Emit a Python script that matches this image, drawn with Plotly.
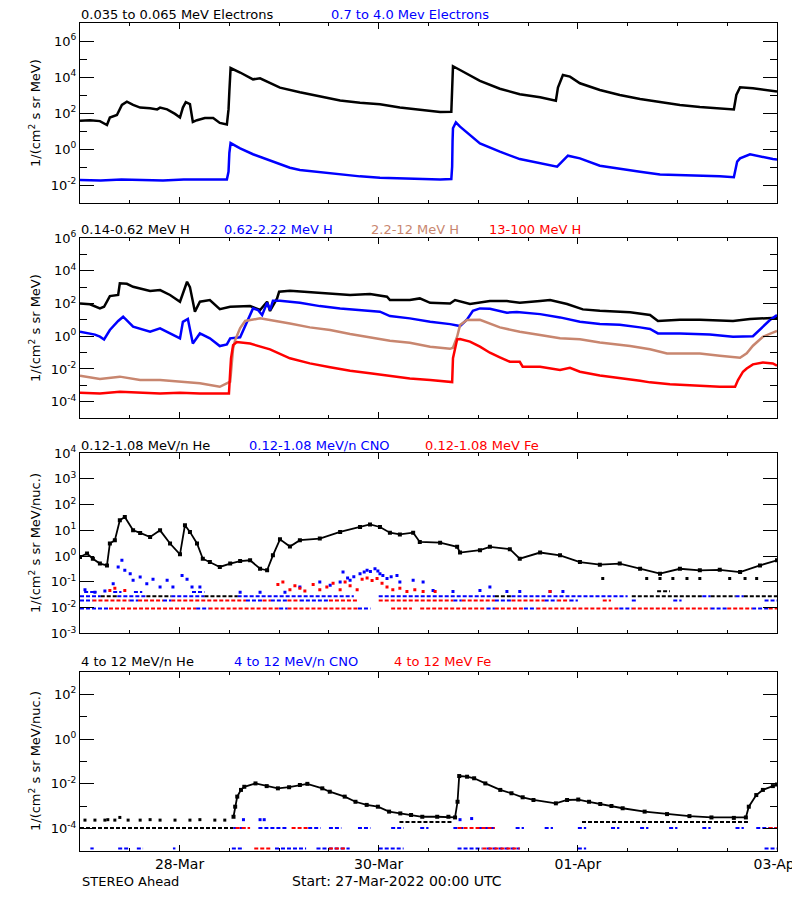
import pandas as pd
import plotly.graph_objects as go

T0 = pd.Timestamp("2022-03-27 00:00")
BLACK, BLUE, BROWN, RED = "#000000", "#0000FF", "#C8866F", "#FF0000"

# ---------------- Panel 1: electrons (hours since start, log10 flux) ----------------
e_lo_hours = [0, 2.4, 4.8, 6.5, 7.2, 8.9, 10.1, 11.3, 12.8, 14.5, 16.9, 18.6, 19.3, 21.0, 22.9, 24.1,
              24.8, 25.5, 26.5, 27.2, 28.2, 30.1, 32.1, 33.7, 35.4, 35.8, 36.0, 36.3, 38.6, 41.7, 43.4,
              45.8, 48.2, 53.0, 57.8, 62.7, 67.5, 72.3, 77.1, 81.9, 86.8, 89.5, 89.7, 89.9, 91.6, 96.4,
              101.2, 106.0, 110.9, 114.7, 115.2, 116.4, 118.1, 120.5, 125.3, 130.1, 135.0, 139.8, 144.6,
              149.4, 154.2, 157.6, 158.2, 159.1, 162.2, 168.0]
e_lo_log = [1.57, 1.6, 1.55, 1.33, 1.75, 1.89, 2.45, 2.63, 2.45, 2.3, 2.26, 2.2, 2.3, 2.2, 1.95, 1.75,
            2.3, 2.6, 2.5, 1.5, 1.6, 1.72, 1.72, 1.45, 1.36, 2.2, 3.2, 4.5, 4.25, 3.87, 3.93,
            3.65, 3.41, 3.15, 2.94, 2.70, 2.57, 2.48, 2.31, 2.17, 2.06, 2.07, 3.18, 4.6, 4.39, 3.78,
            3.35, 3.04, 2.87, 2.68, 3.41, 4.11, 4.02, 3.65, 3.28, 3.0, 2.78, 2.59, 2.44,
            2.33, 2.26, 2.2, 3.0, 3.43, 3.37, 3.2]

e_hi_hours = [0, 5, 10, 15, 20, 25, 30, 35.4, 35.8, 36.0, 36.3, 38.6, 41.7, 45.8, 50.6, 53.0, 57.8,
              62.7, 67.5, 72.3, 77.1, 81.9, 86.8, 89.5, 89.7, 89.8, 89.9, 90.6, 91.6, 96.4, 101.2,
              106.0, 110.9, 115.0, 117.6, 120.5, 125.3, 130.1, 135.0, 139.8, 144.6, 149.4, 154.2,
              157.6, 158.4, 159.1, 161.5, 167.0, 168.0]
e_hi_log = [-1.72, -1.75, -1.7, -1.72, -1.75, -1.7, -1.72, -1.7, -1.26, -0.22, 0.33, 0.04, -0.29, -0.65,
            -1.04, -1.17, -1.29, -1.41, -1.52, -1.59, -1.63, -1.67, -1.7, -1.67, -0.98, 0.44, 1.15, 1.48,
            1.24, 0.31, -0.15, -0.56, -0.8, -0.98, -0.37, -0.52, -0.93, -1.11, -1.26, -1.41, -1.44,
            -1.48, -1.52, -1.57, -0.7, -0.52, -0.29, -0.56, -0.58]

# ---------------- Panel 2: protons ----------------
h_lo_hours = [0, 2.4, 4.8, 5.8, 7.2, 9.2, 9.6, 11.3, 12.8, 16.9, 19.3, 21.7, 24.1, 24.8, 25.8, 26.5,
              27.7, 28.9, 31.3, 33.7, 36.2, 41.0, 43.4, 45.1, 45.8, 47.5, 48.0, 50.6, 57.8, 65.1, 69.9,
              74.0, 74.7, 79.5, 81.9, 84.4, 89.2, 90.4, 94.0, 98.8, 102.9, 106.0, 110.9, 113.3, 117.4,
              121.2, 125.3, 132.6, 137.4, 139.3, 144.6, 149.4, 157.4, 161.5, 168.0]
h_lo_log = [2.0, 1.95, 1.7, 1.8, 2.45, 2.52, 3.23, 3.2, 3.02, 2.76, 2.82, 2.52, 2.11, 2.6, 3.33, 3.0,
            1.5, 2.11, 2.21, 1.65, 1.8, 1.84, 1.6, 2.11, 1.54, 2.31, 2.72, 2.78, 2.66, 2.52, 2.58,
            2.41, 2.21, 2.21, 2.31, 2.04, 2.0, 2.21, 1.97, 2.15, 2.15, 2.04, 2.15, 2.21, 1.97,
            1.64, 1.56, 1.46, 1.3, 0.93, 1.01, 1.01, 0.93, 1.05, 1.13]

h_mid_hours = [0, 3.6, 4.8, 5.8, 7.2, 9.2, 10.4, 12.8, 16.9, 19.3, 21.7, 24.1, 24.8, 26.0, 27.2, 28.9,
               31.3, 33.7, 35.4, 36.2, 38.6, 39.8, 41.7, 42.9, 43.9, 45.1, 45.8, 46.5, 48.2, 53.0, 57.8,
               62.7, 67.5, 72.3, 74.7, 79.5, 84.4, 89.2, 91.6, 93.3, 94.7, 96.4, 98.8, 102.9, 105.3,
               110.9, 115.7, 120.5, 125.3, 130.1, 135.0, 137.4, 139.3, 144.6, 151.8, 157.4, 162.2,
               164.6, 166.3, 168.0]
h_mid_log = [0.27, 0.1, -0.03, -0.2, 0.38, 0.93, 1.19, 0.58, 0.27, 0.48, 0.17, -0.13, 0.88, 1.05, -0.44,
             0.17, -0.13, -0.6, -0.5, -0.13, -0.07, 0.58, 1.7, 1.6, 1.29, 2.04, 1.6, 2.17, 2.17, 2.04,
             1.84, 1.7, 1.6, 1.5, 1.23, 1.09, 0.88, 0.74, 0.62, 1.03, 1.56, 1.7, 1.68, 1.44, 1.48,
             1.35, 1.15, 0.88, 0.75, 0.7, 0.54, 0.44, 0.17, 0.17, 0.11, -0.03, 0.0, 0.58, 0.99, 1.29]

h_hi_hours = [0, 4.8, 9.6, 14.5, 19.3, 24.1, 28.9, 33.7, 36.2, 36.9, 37.4, 38.6, 39.8, 43.4, 45.8,
              50.6, 55.4, 60.3, 65.1, 69.9, 74.7, 79.5, 84.4, 89.2, 89.9, 90.9, 91.6, 93.3, 96.4,
              101.2, 106.0, 110.9, 115.7, 120.5, 125.3, 132.6, 137.4, 141.5, 149.4, 154.2, 159.1,
              160.7, 162.2, 164.6, 168.0]
h_hi_log = [-2.41, -2.62, -2.47, -2.68, -2.68, -2.78, -2.88, -3.09, -2.78, -0.74, -0.24, 0.5, 0.93,
            1.09, 0.99, 0.78, 0.54, 0.38, 0.13, -0.07, -0.28, -0.4, -0.64, -0.77, -0.7, -0.03, 0.68,
            0.99, 1.0, 0.54, 0.27, 0.07, -0.13, -0.19, -0.38, -0.6, -0.8, -1.05, -1.05, -1.19, -1.32,
            -1.05, -0.58, -0.03, 0.32]

h_top_hours = [0, 4.8, 9.6, 14.5, 19.3, 24.1, 28.9, 33.7, 35.9, 36.2, 36.4, 36.9, 37.8, 41.0, 45.8,
               50.6, 55.4, 60.3, 65.1, 69.9, 74.7, 79.5, 84.4, 89.7, 89.9, 90.9, 91.6, 94.0, 96.4,
               98.8, 101.2, 103.6, 106.0, 106.7, 110.9, 115.7, 118.1, 120.5, 125.3, 130.1, 135.0,
               137.4, 142.2, 149.4, 154.2, 157.9, 158.6, 159.8, 160.7, 162.2, 164.6, 167.0, 168.0]
h_top_log = [-3.45, -3.5, -3.4, -3.45, -3.5, -3.45, -3.5, -3.5, -3.5, -2.17, -1.35, -0.54, -0.35,
             -0.45, -0.8, -1.35, -1.66, -1.9, -2.11, -2.27, -2.44, -2.58, -2.68, -2.8, -1.34, -0.19,
             -0.17, -0.33, -0.64, -1.01, -1.29, -1.56, -1.56, -1.86, -1.86, -2.07, -1.93, -2.17, -2.4,
             -2.54, -2.72, -2.82, -2.94, -3.03, -3.09, -3.09, -2.68, -2.17, -1.97, -1.72, -1.6,
             -1.66, -1.8]

# ---------------- Panel 3: 0.12-1.08 MeV/n heavy ions ----------------
he_lo_hours = [0, 1.7, 3.1, 4.8, 6.5, 7.2, 8.4, 9.6, 10.8, 12.8, 14.5, 16.9, 19.3, 21.7, 24.1, 25.3,
               26.5, 28.2, 29.6, 31.3, 33.7, 36.2, 38.6, 41.0, 43.4, 45.1, 46.5, 48.2, 50.6, 53.0,
               57.8, 62.7, 67.5, 69.9, 72.3, 74.7, 77.1, 80.3, 81.9, 86.8, 90.9, 91.6, 96.4, 98.8,
               103.6, 106.0, 110.9, 115.7, 120.5, 125.3, 130.1, 135.0, 139.8, 144.6, 149.4, 154.2,
               159.1, 163.9, 168.0]
he_lo_log = [-0.03, 0.1, -0.1, -0.29, -0.36, 0.49, 0.62, 1.39, 1.52, 1.0, 0.9, 0.74, 1.0, 0.49, 0.07,
             1.2, 0.94, 0.49, -0.1, -0.23, -0.42, -0.29, -0.19, -0.16, -0.49, -0.55, 0.03, 0.65,
             0.37, 0.62, 0.68, 0.94, 1.13, 1.23, 1.13, 0.91, 0.84, 0.91, 0.55, 0.52, 0.36, 0.14,
             0.23, 0.36, 0.27, -0.1, 0.14, 0.03, -0.23, -0.33, -0.29, -0.49, -0.68, -0.49, -0.55,
             -0.53, -0.62, -0.36, -0.16]
he_lo_floor_hours = [126.0, 136.6, 139.8, 142.9, 146.3, 149.4, 156.6, 160.3, 163.1]
he_lo_floor_log = [-0.87, -0.87, -0.87, -0.87, -0.87, -0.87, -0.87, -0.87, -0.87]

cno_lo_hours = [1.2, 3.6, 6.0, 8.0, 9.2, 10.1, 10.8, 12.1, 12.8, 14.5, 16.1, 17.6, 19.3, 21.0, 22.4,
                24.6, 25.8, 27.0, 28.9, 38.6, 43.4, 49.4, 53.0, 57.8, 60.3, 62.7, 63.4, 64.5, 65.1,
                66.0, 67.5, 68.5, 69.2, 70.0, 71.1, 71.8, 72.3, 73.0, 74.0, 75.0, 76.4, 77.1, 80.3,
                82.7, 85.1, 89.9, 96.4, 98.8, 102.9, 106.0, 113.3, 116.4]
cno_lo_log = [-1.3, -1.4, -1.35, -1.07, -0.42, -0.16, -0.55, -0.68, -0.94, -0.81, -1.07, -0.9, -1.2,
              -0.94, -1.2, -0.75, -0.9, -1.2, -1.2, -1.4, -1.4, -1.4, -1.2, -1.0, -1.13, -1.0, -0.62,
              -0.85, -0.94, -0.8, -0.68, -0.62, -0.55, -0.6, -0.49, -0.58, -0.68, -0.75, -0.87, -0.8,
              -0.75, -1.0, -0.94, -1.0, -1.33, -1.37, -1.33, -1.2, -1.37, -1.37, -1.37, -1.37]

fe_lo_hours = [7.2, 8.4, 10.8, 47.7, 48.9, 50.6, 51.8, 53.0, 54.2, 56.2, 57.8, 59.5, 61.0, 62.7, 63.9,
               65.1, 66.8, 68.0, 69.2, 70.4, 71.6, 72.8, 74.0, 75.4, 77.1, 78.8, 80.7, 82.7, 85.6, 113.3]
fe_lo_log = [-1.33, -1.25, -1.33, -1.1, -1.0, -1.3, -1.15, -1.25, -1.35, -1.1, -1.3, -1.2, -1.05, -1.3,
             -1.0, -1.15, -1.3, -0.9, -0.85, -0.95, -0.87, -1.05, -1.2, -1.3, -1.25, -1.37, -1.3,
             -1.37, -1.37, -1.37]

# quantised count-floor rows (colour, value, list of [start_hour, end_hour])
p3_rows = [
    (RED, 0.0093, [[7, 28], [31, 48], [50, 67], [75, 80], [82, 98], [100, 107], [110, 130], [133, 152],
                   [156, 162], [166, 168]]),
    (BLUE, 0.0093, [[0, 7], [28, 31], [48, 50], [67, 70], [98, 100], [107, 110], [130, 133], [152, 156],
                    [162, 166]]),
    (RED, 0.019, [[3, 12], [14, 20], [22, 40], [44, 46], [50, 53], [60, 67], [72, 90], [92, 100],
                  [104, 112], [115, 118], [126, 128]]),
    (BLUE, 0.019, [[0, 3], [12, 14], [20, 22], [40, 44], [46, 50], [53, 60], [90, 92], [100, 104],
                   [112, 115], [118, 120], [133, 134], [143, 145], [165, 168]]),
    (BLUE, 0.028, [[0, 5], [9, 16], [22, 30], [38, 66], [72, 100], [104, 132], [150, 152], [158, 160]]),
    (BLACK, 0.028, [[5, 9], [16, 22], [30, 38], [100, 104], [133, 150], [152, 158], [160, 168]]),
    (BLUE, 0.041, [[1, 4], [8, 10], [13, 15], [27, 30]]),
    (BLACK, 0.043, [[139.1, 142.2]]),
]

# ---------------- Panel 4: 4-12 MeV/n heavy ions ----------------
he_hi_hours = [37.0, 37.4, 37.9, 38.8, 39.6, 42.3, 45.0, 47.7, 50.4, 53.0, 54.8, 58.4, 60.2, 63.8, 66.4,
               69.1, 71.8, 74.5, 77.2, 79.8, 82.5, 86.1, 88.8, 90.4, 91.0, 91.4, 93.3, 95.0, 97.7,
               101.3, 104.0, 106.7, 109.3, 114.7, 117.4, 120.1, 122.7, 125.4, 128.1, 130.8, 136.1,
               141.5, 146.9, 152.2, 157.6, 160.5, 161.2, 163.0, 164.6, 167.0, 168.0]
he_hi_log = [-3.47, -3.02, -2.57, -2.27, -2.13, -1.98, -2.1, -2.2, -2.15, -2.05, -2.0, -2.2, -2.35, -2.57,
             -2.8, -2.94, -3.02, -3.24, -3.32, -3.39, -3.47, -3.47, -3.47, -3.5, -2.8, -1.65, -1.68,
             -1.75, -1.98, -2.27, -2.42, -2.6, -2.72, -2.87, -2.72, -2.7, -2.8, -2.9, -2.99, -3.09,
             -3.24, -3.35, -3.44, -3.5, -3.52, -3.5, -3.02, -2.5, -2.27, -2.1, -2.03]
he_hi_early_hours = [1.2, 3.6, 6.0, 6.7, 8.4, 9.6, 11.6, 14.5, 16.9, 19.3, 22.9, 26.5, 28.9, 32.5, 34.9]
he_hi_early_log = [-3.62, -3.62, -3.62, -3.6, -3.62, -3.5, -3.62, -3.62, -3.6, -3.62, -3.62, -3.62,
                   -3.6, -3.62, -3.62]
cno_hi_dot_hours = [39.4, 43.4, 44.4, 91.6, 94.4]
cno_hi_dot_log = [-3.6, -3.6, -3.6, -3.6, -3.55]

p4_rows = [
    (BLACK, 1.07e-4, [[0, 37]]),
    (BLACK, 2.0e-4, [[77, 90], [121, 161]]),
    (BLUE, 1.07e-4, [[37, 40], [43, 50], [55, 58], [60, 63], [67, 70], [75, 78], [82, 84], [90, 93],
                     [96, 100], [105, 107], [112, 114], [120, 122], [128, 130], [135, 137], [142, 144],
                     [150, 152], [158, 160], [163, 168]]),
    (RED, 1.07e-4, [[37.5, 41], [51, 55], [91, 100], [166, 168]]),
    (BLUE, 1.3e-5, [[2.5, 3.3], [9.2, 11.6], [13.7, 15.2], [22.4, 23.0], [36.6, 39.5], [47, 54.5],
                    [57, 65], [72, 78], [91, 97], [98, 106], [120, 122], [165, 168]]),
    (RED, 1.3e-5, [[42, 46], [60, 64], [97, 106]]),
]

# ---------------- axes / labels ----------------
panel_ranges = [(-3, 7), (-5, 6), (-3, 4), (-5, 3)]
panel_domains = [(0.7826, 1.0), (0.5229, 0.7403), (0.2627, 0.4807), (0.0, 0.2162)]
panel_major = [[-2, 0, 2, 4, 6], [-4, -2, 0, 2, 4, 6], [-3, -2, -1, 0, 1, 2, 3, 4], [-4, -2, 0, 2]]
panel_minor = [[-1, 1, 3, 5], [-3, -1, 1, 3, 5], [], [-3, -1, 1]]
panel_ytitles = ["1/(cm<sup>2</sup> s sr MeV)", "1/(cm<sup>2</sup> s sr MeV)",
                 "1/(cm<sup>2</sup> s sr MeV/nuc.)", "1/(cm<sup>2</sup> s sr MeV/nuc.)"]
panel_titles = [
    [("0.035 to 0.065 MeV Electrons", BLACK, 80), ("0.7 to 4.0 Mev Electrons", BLUE, 330)],
    [("0.14-0.62 MeV H", BLACK, 80), ("0.62-2.22 MeV H", BLUE, 223), ("2.2-12 MeV H", BROWN, 370),
     ("13-100 MeV H", RED, 488)],
    [("0.12-1.08 MeV/n He", BLACK, 80), ("0.12-1.08 MeV/n CNO", BLUE, 248),
     ("0.12-1.08 MeV Fe", RED, 424)],
    [("4 to 12 MeV/n He", BLACK, 80), ("4 to 12 MeV/n CNO", BLUE, 233), ("4 to 12 MeV Fe", RED, 393)],
]
title_y_px = [15, 229, 445, 661]
ytitle_y_px = [113, 328, 543, 761]
x_major_days = ["2022-03-28", "2022-03-30", "2022-04-01", "2022-04-03"]

FONT = "DejaVu Sans"
W, H = 800, 900
# the page body adds an 8px offset; plot area on screen spans x 80..777, y 23..851
PX_L, PX_R, PX_T, PX_B = 80, 777, 23, 851
OFF = 8
ML, MT = PX_L - OFF, PX_T - OFF
MR = W - (PX_R - OFF)
MB = H - (PX_B - OFF)
PW, PH = PX_R - PX_L, PX_B - PX_T


def px_x(x):
    return (x - PX_L) / PW


def px_y(y):
    return (PX_B - y) / PH


def tt(hours):
    return [None if h is None else T0 + pd.Timedelta(hours=h) for h in hours]


def vals(logs):
    return [10 ** v for v in logs]


fig = go.Figure()


def add_line(hours, logs, color, k, width=2.5, markers=False, msize=3):
    fig.add_trace(go.Scatter(
        x=tt(hours), y=vals(logs), xaxis=f"x{k}", yaxis=f"y{k}",
        mode="lines+markers" if markers else "lines",
        line=dict(color=color, width=width),
        marker=dict(color=color, size=msize, symbol="square", line=dict(width=0)),
        showlegend=False, hoverinfo="skip"))


def add_dots(hours, logs, color, k, msize=3):
    fig.add_trace(go.Scatter(
        x=tt(hours), y=vals(logs), xaxis=f"x{k}", yaxis=f"y{k}", mode="markers",
        marker=dict(color=color, size=msize, symbol="square", line=dict(width=0)),
        showlegend=False, hoverinfo="skip"))


def add_rows(rows, k):
    for color, level, segs in rows:
        xs, ys = [], []
        for s, e in segs:
            xs += [s, e, None]
            ys += [level, level, None]
        fig.add_trace(go.Scatter(
            x=tt(xs), y=ys, xaxis=f"x{k}", yaxis=f"y{k}", mode="lines",
            line=dict(color=color, width=2, dash="4px,2px"), connectgaps=False,
            showlegend=False, hoverinfo="skip"))


# panel 1
add_line(e_lo_hours, e_lo_log, BLACK, 1, 2.5)
add_line(e_hi_hours, e_hi_log, BLUE, 1, 2.5)
# panel 2
add_line(h_lo_hours, h_lo_log, BLACK, 2, 2.5)
add_line(h_mid_hours, h_mid_log, BLUE, 2, 2.5)
add_line(h_hi_hours, h_hi_log, BROWN, 2, 2.5)
add_line(h_top_hours, h_top_log, RED, 2, 2.5)
# panel 3
add_rows(p3_rows, 3)
add_dots(cno_lo_hours, cno_lo_log, BLUE, 3)
add_dots(fe_lo_hours, fe_lo_log, RED, 3)
add_line(he_lo_hours, he_lo_log, BLACK, 3, 1.8, markers=True, msize=4)
add_dots(he_lo_floor_hours, he_lo_floor_log, BLACK, 3)
# panel 4
add_rows(p4_rows, 4)
add_dots(cno_hi_dot_hours, cno_hi_dot_log, BLUE, 4)
add_dots(he_hi_early_hours, he_hi_early_log, BLACK, 4)
add_line(he_hi_hours, he_hi_log, BLACK, 4, 1.8, markers=True, msize=4)

layout = dict(
    width=W, height=H, paper_bgcolor="white", plot_bgcolor="white",
    margin=dict(l=ML, r=MR, t=MT, b=MB, pad=0, autoexpand=False),
    font=dict(family=FONT, size=13, color="black"),
    showlegend=False,
)
annotations = []
for i in range(4):
    k = i + 1
    xname = "xaxis" if k == 1 else f"xaxis{k}"
    yname = "yaxis" if k == 1 else f"yaxis{k}"
    layout[xname] = dict(
        type="date", range=[T0, T0 + pd.Timedelta(days=7)], domain=[0, 1],
        anchor=f"y{k}", showgrid=False, zeroline=False, automargin=False,
        showline=True, linecolor="black", linewidth=1, mirror="ticks",
        ticks="inside", ticklen=6, tickcolor="black", tickwidth=1,
        tickmode="array", tickvals=[pd.Timestamp(d) for d in x_major_days],
        ticktext=[pd.Timestamp(d).strftime("%d-%b") for d in x_major_days],
        showticklabels=(k == 4), tickfont=dict(size=14, family=FONT),
        minor=dict(dtick=12 * 3600 * 1000, tick0=T0, ticks="inside", ticklen=3,
                   tickcolor="black", showgrid=False),
    )
    lo, hi = panel_ranges[i]
    layout[yname] = dict(
        type="log", range=[lo, hi], domain=list(panel_domains[i]), anchor=f"x{k}",
        showgrid=False, zeroline=False, automargin=False,
        showline=True, linecolor="black", linewidth=1,
        mirror="ticks", ticks="inside", ticklen=14, tickcolor="black",
        tickmode="array", tickvals=[10 ** p for p in panel_major[i]],
        ticktext=[f"10<sup>{p}</sup>" for p in panel_major[i]],
        tickfont=dict(size=13, family=FONT),
        minor=dict(tickmode="array", tickvals=[10 ** p for p in panel_minor[i]],
                   ticks="inside", ticklen=7, tickcolor="black", showgrid=False),
    )
    for text, color, xpx in panel_titles[i]:
        annotations.append(dict(
            text=text, xref="paper", yref="paper", x=px_x(xpx),
            y=px_y(title_y_px[i]), xanchor="left", yanchor="middle", borderpad=0,
            showarrow=False, font=dict(color=color, size=13, family=FONT)))
    annotations.append(dict(
        text=panel_ytitles[i], xref="paper", yref="paper", x=px_x(35),
        y=px_y(ytitle_y_px[i]), xanchor="center", yanchor="middle",
        textangle=-90, showarrow=False, font=dict(size=13, family=FONT)))

annotations.append(dict(text="STEREO Ahead", xref="paper", yref="paper", x=px_x(80),
                        y=px_y(881), xanchor="left", yanchor="middle",
                        showarrow=False, font=dict(size=13, family=FONT)))
annotations.append(dict(text="Start: 27-Mar-2022 00:00 UTC", xref="paper", yref="paper",
                        x=px_x(290), y=px_y(881), xanchor="left", yanchor="middle",
                        showarrow=False, font=dict(size=14, family=FONT)))
layout["annotations"] = annotations
fig.update_layout(**layout)

fig.write_html("out.html")
